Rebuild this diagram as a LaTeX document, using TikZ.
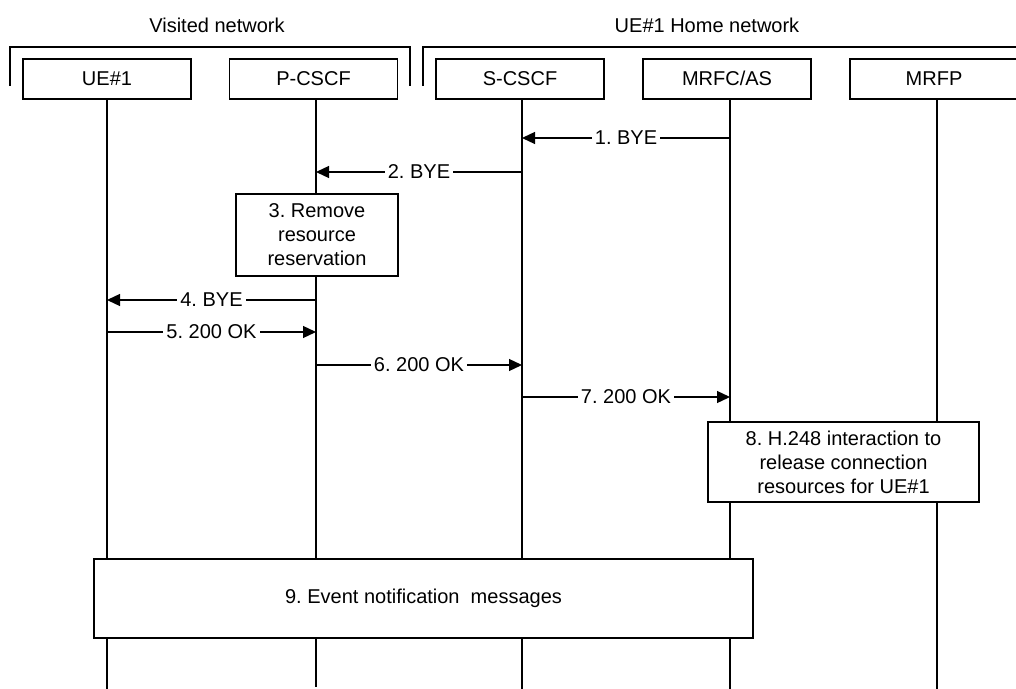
\documentclass[tikz,border=0pt]{standalone}
\usepackage{fontspec}
\setmainfont{Liberation Sans}
\usetikzlibrary{arrows.meta}
\begin{document}
\frenchspacing
\begin{tikzpicture}[x=0.5pt,y=-0.5pt,
  every node/.style={font=\fontsize{10}{12}\selectfont\frenchspacing},
  line/.style={line width=0.65pt},
  entity/.style={draw,line width=0.65pt,fill=white,minimum width=84pt,minimum height=20pt,inner sep=0pt,text height=7.3pt,text depth=0.6pt},
  actbox/.style={draw,line width=0.65pt,fill=white,align=center,inner sep=0pt},
  msg/.style={line width=0.65pt,-{Triangle[length=6.5pt,width=6pt]}},
  lbl/.style={fill=white,inner sep=1.5pt,text height=7.3pt,text depth=0.6pt}]
\useasboundingbox (0,0) rectangle (1016,689);

% network labels and brackets
\node (vis) at (217,25) {Visited network};
\node (home) at (707,25) {UE\#1 Home network};
\draw[line] (10,86) -- (10,47) -- (410,47) -- (410,86);
\draw[line] (423,86) -- (423,47) -- (1020,47);

% entities
\node[entity] (ue) at (107,79) {UE\#1};
\node[entity] (pcscf) at (313.5,79) {P-CSCF};
\node[entity] (scscf) at (520,79) {S-CSCF};
\node[entity] (mrfc) at (727,79) {MRFC/AS};
\node[entity] (mrfp) at (934,79) {MRFP};

% lifeline ends
\coordinate (L1) at (107,689);
\coordinate (L2) at (316,687);
\coordinate (L3) at (522,689);
\coordinate (L4) at (730,689);
\coordinate (L5) at (937,689);
\draw[line] (L1 |- ue.south) -- (L1);
\draw[line] (L2 |- pcscf.south) -- (L2);
\draw[line] (L3 |- scscf.south) -- (L3);
\draw[line] (L4 |- mrfc.south) -- (L4);
\draw[line] (L5 |- mrfp.south) -- (L5);

% action boxes
\node[actbox,minimum width=81pt,minimum height=41pt] (b3) at (317,235) {3. Remove\\resource\\reservation};
\node[actbox,minimum width=135.5pt,minimum height=40pt] (b8) at (843.5,462) {8. H.248 interaction to\\release connection\\resources for UE\#1};
\node[actbox,minimum width=329.5pt,minimum height=39.5pt] (b9) at (423.5,598.5) {9. Event notification\ \ messages};

% message rows
\coordinate (m1) at (0,138);
\coordinate (m2) at (0,172);
\coordinate (m4) at (0,300);
\coordinate (m5) at (0,332);
\coordinate (m6) at (0,365);
\coordinate (m7) at (0,397);

\draw[msg] (L4 |- m1) -- node[lbl]{1. BYE} (L3 |- m1);
\draw[msg] (L3 |- m2) -- node[lbl]{2. BYE} (L2 |- m2);
\draw[msg] (L2 |- m4) -- node[lbl]{4. BYE} (L1 |- m4);
\draw[msg] (L1 |- m5) -- node[lbl]{5. 200 OK} (L2 |- m5);
\draw[msg] (L2 |- m6) -- node[lbl]{6. 200 OK} (L3 |- m6);
\draw[msg] (L3 |- m7) -- node[lbl]{7. 200 OK} (L4 |- m7);
\end{tikzpicture}
\end{document}
